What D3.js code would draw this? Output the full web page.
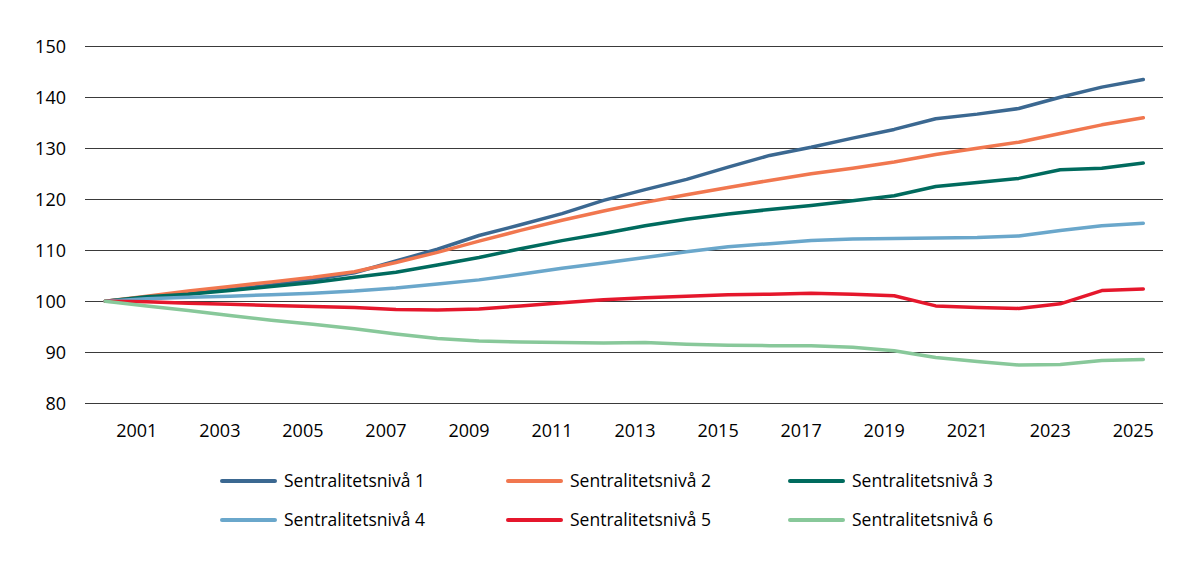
<!DOCTYPE html>
<html>
<head>
<meta charset="utf-8">
<script src="https://cdn.jsdelivr.net/npm/d3@7"></script>
<style>
  body { margin: 0; background: #fff; }
  svg text { font-family: "Open Sans", sans-serif; fill: #000; }
</style>
</head>
<body>
<div id="chart"></div>
<script>
const years = d3.range(2000, 2026)
const tickYears = d3.range(2001, 2026, 2)
const yTicks = [80, 90, 100, 110, 120, 130, 140, 150]

const seriesNames = ["Sentralitetsnivå 1", "Sentralitetsnivå 2", "Sentralitetsnivå 3",
                     "Sentralitetsnivå 4", "Sentralitetsnivå 5", "Sentralitetsnivå 6"]
const seriesColors = ["#3b6891", "#f1774f", "#006b5e", "#6aa7cb", "#e5172c", "#88c89a"]

const niva1 = [100, 100.8, 101.5, 102.3, 103.2, 104.2, 105.6, 107.9, 110.2, 112.9, 115.0, 117.2, 119.8,
               121.9, 123.9, 126.3, 128.6, 130.2, 132.0, 133.7, 135.8, 136.7, 137.8, 140.0, 142.0, 143.5]
const niva2 = [100, 101.0, 102.0, 102.9, 103.8, 104.7, 105.8, 107.6, 109.6, 111.8, 113.9, 115.9, 117.7,
               119.4, 120.9, 122.3, 123.7, 125.0, 126.1, 127.3, 128.8, 130.0, 131.2, 132.9, 134.6, 136.0]
const niva3 = [100, 100.9, 101.4, 102.1, 102.9, 103.7, 104.7, 105.7, 107.1, 108.6, 110.3, 111.9, 113.3,
               114.8, 116.1, 117.1, 118.0, 118.8, 119.7, 120.7, 122.5, 123.3, 124.1, 125.8, 126.1, 127.1]
const niva4 = [100, 100.5, 100.8, 101.0, 101.3, 101.6, 102.0, 102.6, 103.4, 104.2, 105.3, 106.5, 107.5,
               108.6, 109.7, 110.7, 111.3, 111.9, 112.2, 112.3, 112.4, 112.5, 112.8, 113.9, 114.8, 115.3]
const niva5 = [100, 99.9, 99.6, 99.4, 99.2, 99.0, 98.8, 98.4, 98.3, 98.5, 99.1, 99.7, 100.3,
               100.7, 101.0, 101.3, 101.4, 101.6, 101.4, 101.1, 99.1, 98.8, 98.6, 99.5, 102.1, 102.4]
const niva6 = [100, 99.1, 98.2, 97.2, 96.3, 95.5, 94.6, 93.6, 92.7, 92.2, 92.0, 91.9, 91.8,
               91.9, 91.6, 91.4, 91.3, 91.3, 91.0, 90.3, 89.0, 88.2, 87.5, 87.6, 88.4, 88.6]

const allSeries = [niva1, niva2, niva3, niva4, niva5, niva6]

const width = 1198
const height = 568
const gridLeft = 85, gridRight = 1163

const svg = d3.select("#chart")
    .append("svg")
    .attr("width", width)
    .attr("height", height)

const x = d3.scaleLinear()
    .domain([2000, 2025])
    .range([105.3, 1143.3])

const y = d3.scaleLinear()
    .domain([80, 150])
    .range([403.3, 46.3])

// gridlines
svg.append("g")
    .selectAll("line")
    .data(yTicks)
    .enter()
    .append("line")
    .attr("x1", gridLeft)
    .attr("x2", gridRight)
    .attr("y1", d => Math.round(y(d)) + 0.5)
    .attr("y2", d => Math.round(y(d)) + 0.5)
    .attr("stroke", "#3a3a3a")
    .attr("stroke-width", 1)

// y axis labels
const yAxis = d3.axisLeft(y).tickValues(yTicks).tickSize(0).tickPadding(19)
svg.append("g")
    .attr("transform", `translate(${gridLeft},0)`)
    .call(yAxis)
    .call(g => g.select(".domain").remove())
    .selectAll("text")
    .style("font-size", "18px")
    .style("font-family", '"Open Sans", sans-serif')
    .attr("fill", "#000")

// x axis labels (sit a little left of the data points, as in the original)
const xAxis = d3.axisBottom(x).tickValues(tickYears).tickFormat(d3.format("d")).tickSize(0).tickPadding(21)
svg.append("g")
    .attr("transform", `translate(0,${y(80)})`)
    .call(xAxis)
    .call(g => g.select(".domain").remove())
    .selectAll("text")
    .attr("dx", -10.5)
    .style("font-size", "18px")
    .style("font-family", '"Open Sans", sans-serif')
    .attr("fill", "#000")

const line = d3.line()
    .x((d, i) => x(years[i]))
    .y(d => y(d))

svg.append("g")
    .selectAll("path")
    .data(allSeries)
    .enter()
    .append("path")
    .attr("d", line)
    .attr("fill", "none")
    .attr("stroke", (d, i) => seriesColors[i])
    .attr("stroke-width", 3.5)
    .attr("stroke-linejoin", "round")
    .attr("stroke-linecap", "round")

// legend
const legendCols = [222, 508, 790]
const legendRows = [481, 520]
const legend = svg.append("g")
    .selectAll("g")
    .data(seriesNames)
    .enter()
    .append("g")
    .attr("transform", (d, i) => `translate(${legendCols[i % 3]},${legendRows[Math.floor(i / 3)]})`)

legend.append("line")
    .attr("x1", 0)
    .attr("x2", 53)
    .attr("stroke", (d, i) => seriesColors[i])
    .attr("stroke-width", 4)
    .attr("stroke-linecap", "round")

legend.append("text")
    .attr("x", 62)
    .attr("dy", "0.35em")
    .style("font-size", "17.5px")
    .text(d => d)
</script>
</body>
</html>
